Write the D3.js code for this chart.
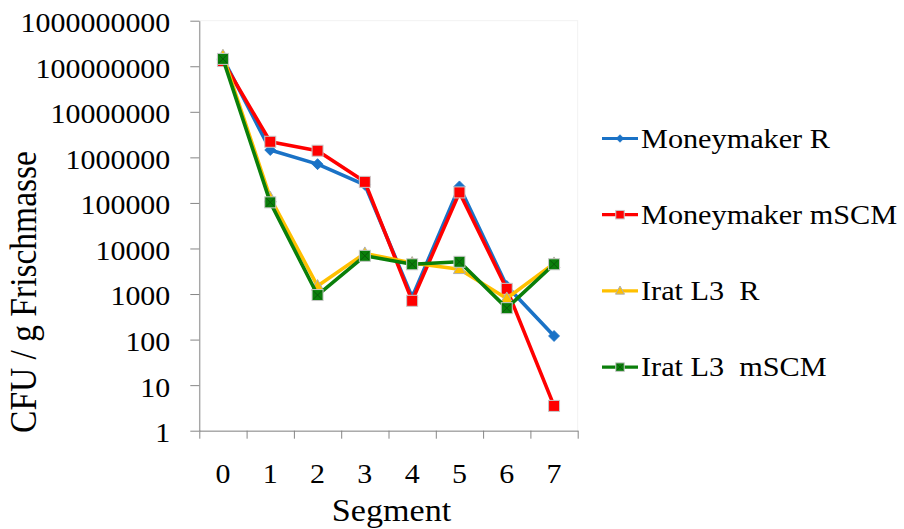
<!DOCTYPE html>
<html>
<head>
<meta charset="utf-8">
<script src="https://cdn.jsdelivr.net/npm/d3@7"></script>
<style>
  html, body { margin: 0; padding: 0; background: #ffffff; }
  svg { display: block; }
  text { font-family: "Liberation Serif", "Times New Roman", serif; fill: #000; white-space: pre; }
</style>
</head>
<body>
<div id="chart"></div>
<script>
// Bacterial counts per root segment (CFU per g fresh mass), log scale
const segments = [0, 1, 2, 3, 4, 5, 6, 7];
const seriesNames = ["Moneymaker R", "Moneymaker mSCM", "Irat L3  R", "Irat L3  mSCM"];
const moneymakerR    = [1.5e8, 1.45e6, 7.1e5, 2.5e5, 850, 2.3e5, 1500, 120];
const moneymakerMSCM = [1.3e8, 2.2e6, 1.4e6, 2.9e5, 710, 1.7e5, 1300, 3.5];
const iratR          = [1.7e8, 1.3e5, 1500, 7800, 4800, 3500, 800, 4700];
const iratMSCM       = [1.45e8, 1.03e5, 950, 6900, 4500, 5100, 490, 4500];
const yTickValues = [1, 10, 100, 1000, 10000, 100000, 1000000, 10000000, 100000000, 1000000000];
const xTitle = "Segment";
const yTitle = "CFU / g Frischmasse";

const seriesValues = [moneymakerR, moneymakerMSCM, iratR, iratMSCM];
const colors = ["#1a72c6", "#ff0000", "#ffc000", "#0a7f0a"];
const markers = ["diamond", "square", "triangle", "squareX"];

const W = 904, H = 529;
const plotLeft = 199.3, plotRight = 577.7, plotTop = 20.7, plotBottom = 430.7;
const STRETCH = 1.1;
const TICK_STRETCH = 1.07;

const svg = d3.select("#chart").append("svg")
  .attr("width", W).attr("height", H);

svg.append("rect").attr("width", W).attr("height", H).attr("fill", "#fff");

const x = d3.scaleBand().domain(segments).range([plotLeft, plotRight]).paddingInner(0).paddingOuter(0);
const xEdge = d3.scaleLinear().domain([0, segments.length]).range([plotLeft, plotRight]);
const y = d3.scaleLog().domain([1, 1e9]).range([plotBottom, plotTop]);
const cx = d => x(d) + x.bandwidth() / 2;

// faint plot-area frame
svg.append("rect")
  .attr("x", plotLeft).attr("y", plotTop)
  .attr("width", plotRight - plotLeft).attr("height", plotBottom - plotTop)
  .attr("fill", "none").attr("stroke", "#f2f2f2").attr("stroke-width", 1);

const axisColor = "#868686";

// y axis
const yAxis = svg.append("g")
  .attr("transform", `translate(${plotLeft},0)`)
  .call(d3.axisLeft(y).tickValues(yTickValues).tickSize(9).tickSizeOuter(0)
    .tickFormat(d3.format("d")));
yAxis.select(".domain").attr("stroke", axisColor);
yAxis.selectAll(".tick line").attr("stroke", axisColor);
yAxis.selectAll(".tick text")
  .attr("x", -29 / TICK_STRETCH)
  .attr("dy", "0.39em")
  .attr("transform", `scale(${TICK_STRETCH},1)`)
  .style("font-family", '"Liberation Serif", serif')
  .style("font-size", "28px")
  .attr("fill", "#000");

// x axis: ticks between categories
const xTicks = svg.append("g")
  .attr("transform", `translate(0,${plotBottom})`)
  .call(d3.axisBottom(xEdge).tickValues(d3.range(segments.length + 1))
    .tickSize(8).tickSizeOuter(0).tickFormat(""));
xTicks.select(".domain").attr("stroke", axisColor);
xTicks.selectAll(".tick line").attr("stroke", axisColor);

// x axis: category labels
const xLabels = svg.append("g")
  .attr("transform", `translate(0,${plotBottom})`)
  .call(d3.axisBottom(x).tickSize(0).tickSizeOuter(0));
xLabels.select(".domain").remove();
xLabels.selectAll(".tick text")
  .attr("x", 0)
  .attr("y", 32)
  .attr("dy", "0.71em")
  .attr("transform", `scale(${TICK_STRETCH},1)`)
  .style("font-family", '"Liberation Serif", serif')
  .style("font-size", "28px")
  .attr("fill", "#000");

// axis titles
svg.append("text")
  .attr("transform", `translate(391.5,521) scale(${STRETCH},1)`)
  .attr("text-anchor", "middle")
  .style("font-size", "31px")
  .text(xTitle);

svg.append("text")
  .attr("transform", `translate(36,292) rotate(-90) scale(1,${STRETCH})`)
  .attr("text-anchor", "middle")
  .style("font-size", "33.5px")
  .text(yTitle);

// marker drawing
function drawMarker(g, type, color, px, py, s) {
  const h = s / 2;
  if (type === "diamond") {
    g.append("path")
      .attr("d", `M${px},${py - h}L${px + h},${py}L${px},${py + h}L${px - h},${py}Z`)
      .attr("fill", color).attr("stroke", color).attr("stroke-width", 0.8);
  } else if (type === "square" || type === "squareX") {
    g.append("rect")
      .attr("x", px - h).attr("y", py - h).attr("width", s).attr("height", s)
      .attr("fill", color).attr("stroke", "#c8c8c8").attr("stroke-width", 1);
    if (type === "squareX") {
      const k = h * 0.75;
      g.append("path")
        .attr("d", `M${px - k},${py - k}L${px + k},${py + k}M${px + k},${py - k}L${px - k},${py + k}`)
        .attr("stroke", "#0b5a0b").attr("stroke-width", 1).attr("fill", "none");
    }
  } else if (type === "triangle") {
    const th = s * 0.9;
    g.append("path")
      .attr("d", `M${px},${py - th * 0.6}L${px + h},${py + th * 0.4}L${px - h},${py + th * 0.4}Z`)
      .attr("fill", color).attr("stroke", "#b0b0b0").attr("stroke-width", 1);
  }
}

const line = d3.line().x((d, i) => cx(segments[i])).y(d => y(d));

seriesValues.forEach((vals, si) => {
  const g = svg.append("g");
  g.append("path")
    .datum(vals)
    .attr("d", line)
    .attr("fill", "none")
    .attr("stroke", colors[si])
    .attr("stroke-width", 3.6)
    .attr("stroke-linejoin", "round");
  const msize = markers[si] === "diamond" ? 11 : (markers[si] === "triangle" ? 12 : 11);
  vals.forEach((v, i) => drawMarker(g, markers[si], colors[si], cx(segments[i]), y(v), msize));
});

// legend
const legend = svg.append("g");
seriesNames.forEach((name, si) => {
  const ry = 138.5 + si * 76.2;
  const g = legend.append("g");
  g.append("line")
    .attr("x1", 602).attr("x2", 638).attr("y1", ry).attr("y2", ry)
    .attr("stroke", colors[si]).attr("stroke-width", 3.2);
  const ls = markers[si] === "diamond" ? 7.5 : (markers[si] === "triangle" ? 9 : 8.5);
  drawMarker(g, markers[si], colors[si], 620, ry, ls);
  g.append("text")
    .attr("transform", `translate(641,${ry + 9}) scale(${STRETCH},1)`)
    .style("font-size", "27.5px")
    .text(name);
});
</script>
</body>
</html>
